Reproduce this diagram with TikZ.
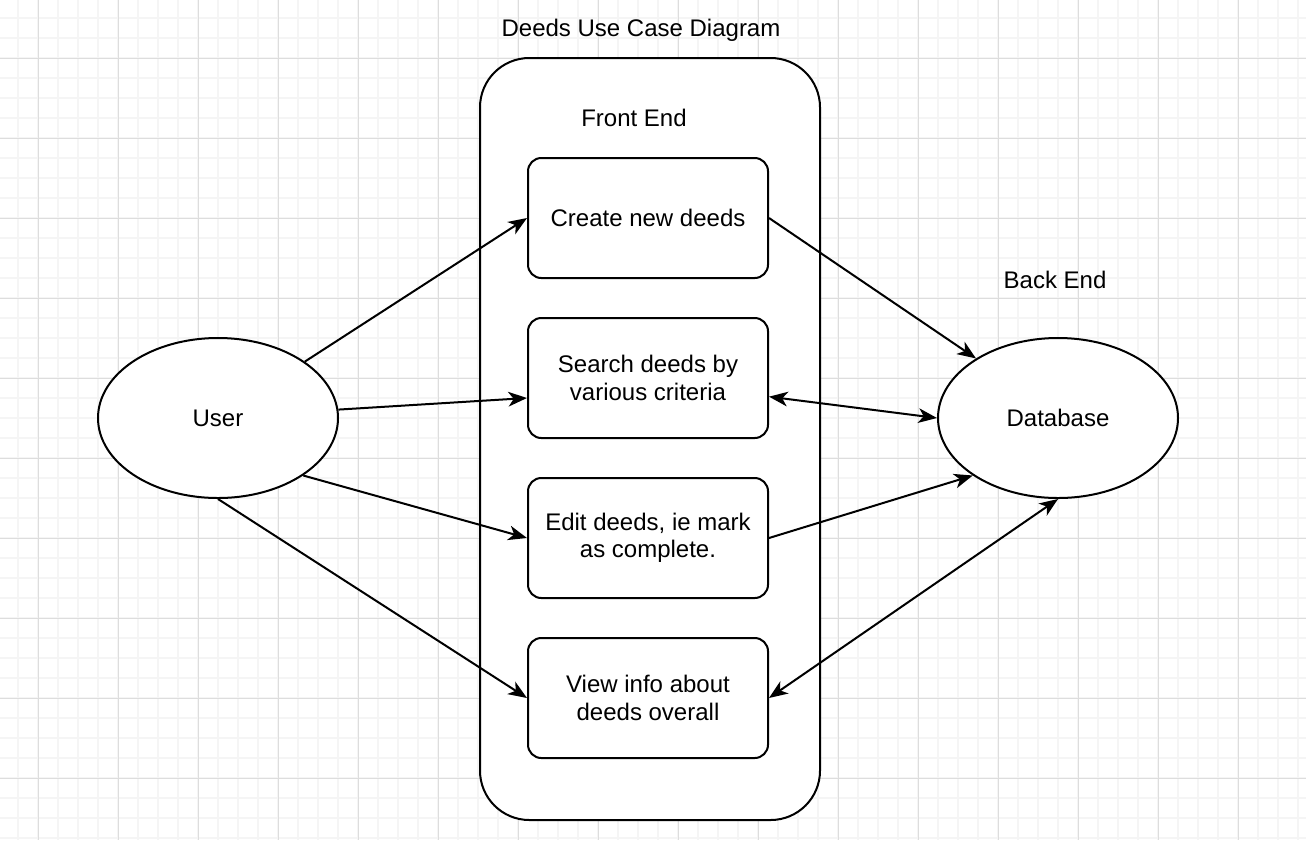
\documentclass[tikz,border=0pt]{standalone}
\usepackage{fontspec}
\setmainfont{Liberation Sans}
\usetikzlibrary{arrows.meta, positioning, shapes.geometric}

\definecolor{gridminor}{HTML}{F5F5F5}
\definecolor{gridmajor}{HTML}{DDDDDD}

\begin{document}
\begin{tikzpicture}[
		x=0.75pt, y=-0.75pt,
		font=\fontsize{18pt}{20.5pt}\selectfont,
		usecase/.style={rectangle, draw=black, fill=white, line width=1.5pt, rounded corners=10pt, minimum width=180pt, minimum height=90pt, align=center, inner sep=0pt},
		actor/.style={ellipse, draw=black, fill=white, line width=1.5pt, minimum width=180pt, minimum height=120pt, inner sep=0pt},
		frontend/.style={rectangle, draw=black, fill=white, line width=1.5pt, rounded corners=37pt, minimum width=255pt, minimum height=571.5pt},
		link/.style={line width=1.5pt, -{Stealth[length=14pt, width=11pt, inset=4pt]}},
		duplex/.style={line width=1.5pt, {Stealth[length=14pt, width=11pt, inset=4pt]}-{Stealth[length=14pt, width=11pt, inset=4pt]}}
		]
		\useasboundingbox (0,0) rectangle (1306,840);
		% background grid
		\foreach \gx in {18,38,...,1306}
			\draw [gridminor, line width=1.5pt] (\gx,0) -- (\gx,840);
		\foreach \gy in {18,38,...,840}
			\draw [gridminor, line width=1.5pt] (0,\gy) -- (1306,\gy);
		\foreach \gx in {38,118,...,1306}
			\draw [gridmajor, line width=0.75pt] (\gx,0) -- (\gx,840);
		\foreach \gy in {58,138,...,840}
			\draw [gridmajor, line width=0.75pt] (0,\gy) -- (1306,\gy);

		\node [frontend] (front end) at (650,439) {};
		\node (title) at (641,30) {Deeds Use Case Diagram};
		\node (front label) at (634,118) {Front End};
		\node (back label) at (1055,280) {Back End};

		\node [usecase] (create deeds) at (648,218) {Create new deeds};
		\node [usecase] (search deeds) [below=28.5pt of create deeds] {Search deeds by\\various criteria};
		\node [usecase] (edit deeds) [below=28.5pt of search deeds] {Edit deeds, ie mark\\as complete.};
		\node [usecase] (view info) [below=28.5pt of edit deeds] {View info about\\deeds overall};

		\node [actor] (user) at (218,418) {User};
		\node [actor] (database) at (1058,418) {Database};

		\draw [link] (user.4) -- ([yshift=-15pt]search deeds.west);
		\draw [link] (user.33) -- (create deeds.west);
		\draw [link] (user.-34) -- (edit deeds.west);
		\draw [link] (user.south) -- (view info.west);
		\draw [link] (create deeds.east) -- (database.144);
		\draw [duplex] ([yshift=-14pt]search deeds.east) -- (database.west);
		\draw [link] (edit deeds.east) -- (database.214);
		\draw [duplex] (view info.east) -- (database.south);
	\end{tikzpicture}
\end{document}
